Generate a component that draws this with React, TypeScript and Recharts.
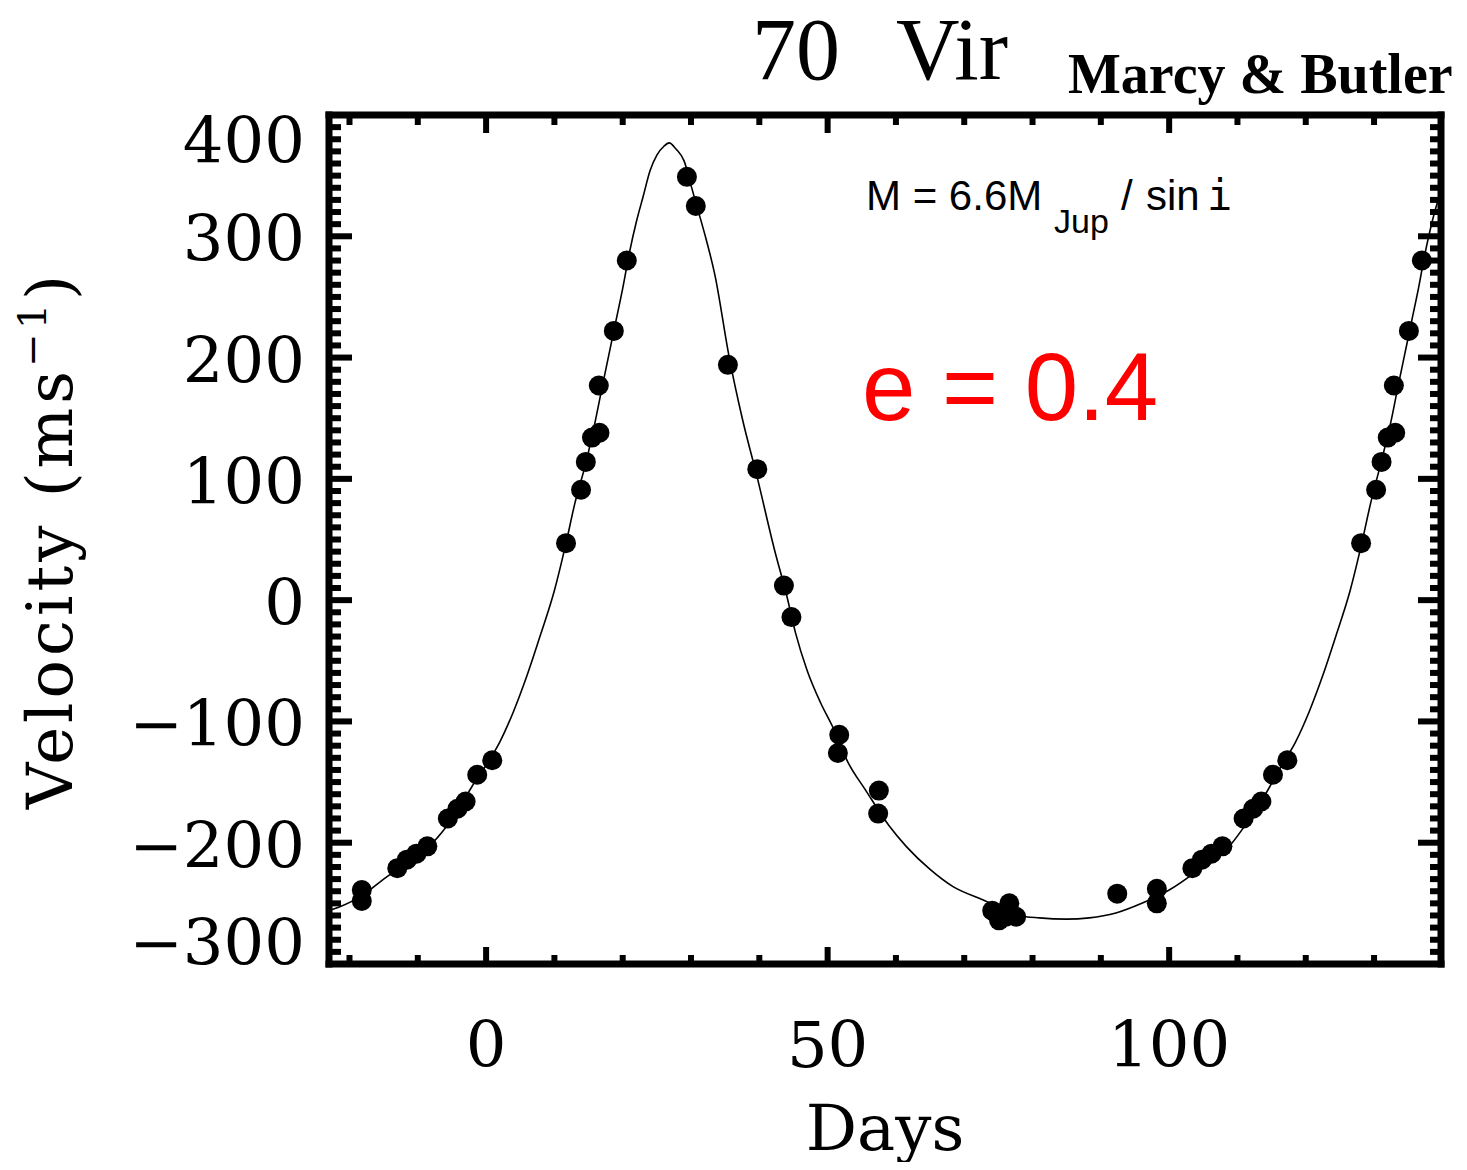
import { ComposedChart, Line, Scatter, XAxis, YAxis } from 'recharts';

// observed radial velocities, folded on the orbital period
const obsDays = [
  -18.2, -18.2, -13.0, -11.6, -10.2, -8.6, -5.6, -4.2, -3.0, -1.3, 0.9,
  11.7, 13.9, 14.6, 15.5, 16.6, 16.5, 18.7, 20.6, 29.4, 30.7, 35.4, 39.7,
  43.6, 44.7, 51.7, 51.5, 57.5, 57.4, 74.1, 75.1, 76.1, 76.6, 77.6, 92.4,
  98.2, 98.2, 103.4, 104.8, 106.2, 107.8, 110.9, 112.3, 113.5, 115.2, 117.3,
  128.1, 130.3, 131.1, 132.0, 133.1, 132.9, 135.1, 137.0,
];
const obsVel = [
  -239, -248, -221, -214, -209, -203, -180, -172, -166, -144, -132,
  47, 91, 114, 134, 138, 177, 222, 280, 349, 325, 194, 108,
  12, -14, -111, -126, -157, -176, -256, -264, -261, -250, -261, -242,
  -238, -250, -221, -214, -209, -203, -180, -172, -166, -144, -132,
  47, 91, 114, 134, 138, 177, 222, 280,
];

// fitted orbit
const curveDays = [
  -23, -21.5, -18, -15, -13, -10, -8, -6, -4, -2, 0, 2, 4, 6, 8, 10, 11.7, 13,
  14.6, 16, 17, 18, 19, 20, 21, 22, 23, 24, 25, 26, 26.8, 27.8, 29, 30, 31, 32,
  33.5, 35.6, 37.5, 39.7, 42.2, 44, 45.3, 47, 49, 50.7, 53, 55.6, 59, 61.5, 65,
  68.3, 72.7, 78, 81, 85, 88.3, 92.2, 96, 100, 104.4, 108.8, 111.7, 114.2, 116.5,
  118.5, 120.5, 122.5, 124.5, 126.5, 128.2, 129.5, 131, 132.5, 133.5, 134.5,
  135.5, 136.5, 137.5, 138.5, 139.8,
];
const curveVel = [
  -256, -253, -243, -230, -222, -210, -201, -188, -172, -153, -136, -117, -92,
  -62, -28, 8, 47, 80, 113, 148, 176, 203, 230, 257, 287, 312, 333, 354, 367,
  374, 377, 372, 362, 342, 322, 302, 268, 200, 150, 101, 42, 4, -27, -58, -85,
  -104, -134, -157, -186, -203, -222, -236, -247, -260, -262, -263, -262, -258,
  -250, -239, -222, -203, -181, -159, -136, -117, -92, -62, -28, 8, 47, 80,
  113, 148, 176, 203, 230, 257, 287, 312, 338,
];

const xTicks = [-20, -10, 0, 10, 20, 30, 40, 50, 60, 70, 80, 90, 100, 110, 120, 130];
const xLabels = [0, 50, 100];
const yTicks = [
  -300, -290, -280, -270, -260, -250, -240, -230, -220, -210,
  -200, -190, -180, -170, -160, -150, -140, -130, -120, -110,
  -100, -90, -80, -70, -60, -50, -40, -30, -20, -10,
  0, 10, 20, 30, 40, 50, 60, 70, 80, 90,
  100, 110, 120, 130, 140, 150, 160, 170, 180, 190,
  200, 210, 220, 230, 240, 250, 260, 270, 280, 290,
  300, 310, 320, 330, 340, 350, 360, 370, 380, 390, 400,
];
const yLabels = [-300, -200, -100, 0, 100, 200, 300, 400];

const obs = obsDays.map((d, i) => ({ d, v: obsVel[i] }));
const curve = curveDays.map((d, i) => ({ d, v: curveVel[i] }));

const W = 1451;
const H = 1154;
const serif = '"DejaVu Serif", serif';
const sans = '"Liberation Sans", sans-serif';
const frame = { stroke: '#000', strokeWidth: 7, strokeLinecap: 'square' as const };
const fmt = (v: number) => (v < 0 ? '\u2212' + Math.abs(v) : String(v));

const LeftTick = ({ x, y, payload }: any) => {
  const v = payload.value;
  const major = yLabels.includes(v);
  const shift = v === 400 ? 48 : v === -300 ? 1 : 25;
  return (
    <g>
      <line x1={x} y1={y} x2={x + (major ? 23 : 12)} y2={y} stroke="#000" strokeWidth={6} />
      {major && (
        <text x={x - 24} y={y + shift} textAnchor="end" fontFamily={serif} fontSize={64} fill="#000">
          {fmt(v)}
        </text>
      )}
    </g>
  );
};

const RightTick = ({ x, y, payload }: any) => {
  const major = yLabels.includes(payload.value);
  return <line x1={x} y1={y} x2={x - (major ? 23 : 11)} y2={y} stroke="#000" strokeWidth={6} />;
};

const BottomTick = ({ x, y, payload }: any) => {
  const v = payload.value;
  const major = xLabels.includes(v);
  return (
    <g>
      <line x1={x} y1={y} x2={x} y2={y - (major ? 17 : 9)} stroke="#000" strokeWidth={6} />
      {major && (
        <text x={x} y={y + 103} textAnchor="middle" fontFamily={serif} fontSize={64} fill="#000">
          {fmt(v)}
        </text>
      )}
    </g>
  );
};

const TopTick = ({ x, y, payload }: any) => {
  const major = xLabels.includes(payload.value);
  return <line x1={x} y1={y} x2={x} y2={y + (major ? 18 : 10)} stroke="#000" strokeWidth={6} />;
};

const Dot = (p: any) => <circle cx={p.cx} cy={p.cy} r={10} fill="#000" />;

export default function App() {
  return (
    <div style={{ position: 'relative', width: W, height: H }}>
      <ComposedChart width={W} height={H} margin={{ top: 0, right: 0, bottom: 0, left: 0 }}>
        <XAxis xAxisId="B" orientation="bottom" type="number" dataKey="d" domain={[-23, 139.8]}
          allowDataOverflow ticks={xTicks} interval={0} height={198} tickSize={0} tickMargin={0}
          axisLine={frame} tickLine={false} tick={BottomTick} />
        <XAxis xAxisId="T" orientation="top" type="number" dataKey="d" domain={[-23, 139.8]}
          allowDataOverflow ticks={xTicks} interval={0} height={107} tickSize={0} tickMargin={0}
          axisLine={frame} tickLine={false} tick={TopTick} />
        <YAxis yAxisId="L" orientation="left" type="number" dataKey="v" domain={[-300, 400]}
          allowDataOverflow ticks={yTicks} interval={0} width={321} tickSize={0} tickMargin={0}
          axisLine={frame} tickLine={false} tick={LeftTick} />
        <YAxis yAxisId="R" orientation="right" type="number" dataKey="v" domain={[-300, 400]}
          allowDataOverflow ticks={yTicks} interval={0} width={18} tickSize={0} tickMargin={0}
          axisLine={frame} tickLine={false} tick={RightTick} />
        <Line xAxisId="B" yAxisId="L" data={curve} dataKey="v" type="monotone" stroke="#000"
          strokeWidth={1.6} dot={false} activeDot={false} isAnimationActive={false} />
        <Scatter xAxisId="B" yAxisId="L" data={obs} dataKey="v" shape={Dot} isAnimationActive={false} />
      </ComposedChart>
      {/* text layer, in page coordinates */}
      <svg width={1467} height={1170}
        style={{ position: 'absolute', left: -8, top: -8, pointerEvents: 'none', overflow: 'visible' }}>
        <text y={79} fontFamily='"Liberation Serif", serif' fontSize={88} fill="#000">
          <tspan x={752}>70</tspan>
          <tspan x={896}>Vir</tspan>
        </text>
        <text x={1068} y={93} fontFamily='"Liberation Serif", serif' fontWeight="bold" fontSize={56} fill="#000">
          Marcy &amp; Butler
        </text>
        <text x={885} y={1150} textAnchor="middle" fontFamily={serif} fontSize={64} fill="#000">
          Days
        </text>
        <text transform="translate(72, 540) rotate(-90)" textAnchor="middle" fontFamily={serif}
          fontSize={64} letterSpacing={4} fill="#000">
          Velocity (ms<tspan fontSize={40} dy={-26}>{'\u22121'}</tspan><tspan dy={26}>)</tspan>
        </text>
        <text y={210} fontFamily={sans} fontSize={42} fill="#000">
          <tspan x={866}>M = 6.6M</tspan>
          <tspan x={1054} dy={23} fontSize={34}>Jup</tspan>
          <tspan x={1121} dy={-23}>/</tspan>
          <tspan x={1146}>sin</tspan>
          <tspan x={1207} fontFamily='"DejaVu Sans Mono", monospace' fontSize={42}>i</tspan>
        </text>
        <text x={862} y={420} fontFamily={sans} fontSize={96} fill="#ff0000">
          e = 0.4
        </text>
      </svg>
    </div>
  );
}
